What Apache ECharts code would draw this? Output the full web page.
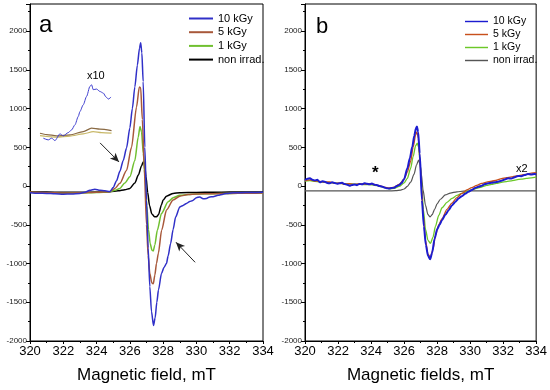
<!DOCTYPE html>
<html>
<head>
<meta charset="utf-8">
<script src="https://cdn.jsdelivr.net/npm/echarts@6/dist/echarts.min.js"></script>
<style>
html,body{margin:0;padding:0;background:#fff;}
#chart{width:550px;height:390px;}
</style>
</head>
<body>
<div id="chart"></div>
<script>
// ---------- Panel a : [field mT, intensity] ----------
const a10kGy = [[320,-85],[320.5,-92],[321,-95],[321.5,-100],[322,-105],[322.5,-102],[323,-95],[323.3,-80],[323.6,-55],[323.9,-40],[324.2,-55],[324.5,-62],[324.8,-70],[325.0,-20],[325.2,70],[325.4,190],[325.6,330],[325.8,490],[326.0,750],[326.15,1000],[326.3,1280],[326.45,1560],[326.58,1780],[326.65,1850],[326.72,1720],[326.8,1350],[326.9,500],[327.0,-180],[327.1,-800],[327.2,-1300],[327.3,-1620],[327.42,-1800],[327.52,-1700],[327.62,-1500],[327.72,-1340],[327.9,-1130],[328.05,-1050],[328.2,-1000],[328.3,-900],[328.45,-740],[328.6,-560],[328.75,-400],[329.0,-270],[329.2,-250],[329.4,-225],[329.6,-200],[329.75,-190],[330.0,-150],[330.2,-140],[330.4,-165],[330.6,-160],[330.8,-140],[331.0,-138],[331.3,-120],[331.6,-105],[331.8,-95],[332.2,-88],[332.7,-85],[333.2,-83],[333.6,-82],[334,-80]];
const a5kGy = [[320,-78],[321,-85],[322,-90],[323,-88],[324,-80],[324.8,-72],[325.1,-30],[325.4,35],[325.8,200],[326.1,500],[326.4,1020],[326.57,1280],[326.65,1270],[326.75,860],[326.87,210],[327.0,-500],[327.1,-900],[327.2,-1130],[327.32,-1250],[327.41,-1260],[327.5,-1150],[327.6,-1000],[327.71,-870],[327.91,-570],[328.2,-310],[328.6,-180],[329,-130],[329.5,-110],[330,-102],[331,-98],[332,-95],[333,-92],[334,-90]];
const a1kGy = [[320,-80],[321,-87],[322,-92],[323,-90],[324,-84],[324.8,-75],[325.1,-55],[325.4,-30],[325.7,40],[326.0,120],[326.3,330],[326.5,630],[326.61,768],[326.7,700],[326.81,420],[326.92,100],[327.02,-250],[327.12,-560],[327.22,-740],[327.33,-830],[327.41,-838],[327.5,-760],[327.65,-570],[327.9,-354],[328.3,-203],[328.6,-150],[329,-120],[329.5,-108],[330,-102],[331,-98],[332,-95],[333,-92],[334,-90]];
const aNonIrrad = [[320,-75],[321,-78],[322,-80],[323,-80],[324,-78],[324.8,-74],[325.3,-62],[325.7,-48],[326.0,-30],[326.3,40],[326.51,142],[326.7,260],[326.81,315],[326.88,290],[326.97,120],[327.07,-80],[327.18,-250],[327.32,-360],[327.48,-395],[327.6,-397],[327.72,-370],[327.9,-240],[328.0,-181],[328.2,-130],[328.6,-95],[329,-86],[330,-82],[331,-80],[332,-78],[333,-77],[334,-77]];
// x10 inset traces
const aInset10 = [[320.8,618],[321.1,596],[321.3,618],[321.5,587],[321.8,674],[322.0,648],[322.3,690],[322.5,725],[322.7,790],[322.9,898],[323.0,962],[323.2,1049],[323.4,1157],[323.6,1286],[323.7,1308],[323.8,1244],[324.0,1252],[324.2,1221],[324.4,1201],[324.57,1149],[324.71,1123],[324.87,1149]];
const aInset5 = [[320.6,682],[321.0,665],[321.6,648],[322.4,661],[323.2,703],[323.7,747],[324.2,734],[324.9,716]];
const aInset1 = [[320.6,650],[321.0,640],[321.6,630],[322.4,645],[323.2,674],[323.8,703],[324.3,690],[324.9,682]];
const aArrows = [[[324.21,557],[325.35,311]],[[329.92,-984],[328.77,-725]]];

// ---------- Panel b ----------
const b10kGy = [[320,78],[320.15,95],[320.3,100],[320.45,80],[320.6,72],[320.75,82],[320.9,48],[321.05,62],[321.2,55],[321.35,40],[321.5,35],[321.65,50],[321.8,38],[321.95,30],[322.1,35],[322.25,42],[322.4,25],[322.55,18],[322.7,4],[322.85,15],[323.0,20],[323.15,12],[323.3,28],[323.45,22],[323.6,35],[323.75,30],[323.9,22],[324.05,32],[324.2,18],[324.35,13],[324.5,2],[324.65,-5],[324.8,-18],[324.95,-28],[325.1,-32],[325.25,-25],[325.4,-22],[325.55,0],[325.7,13],[325.85,40],[326.0,90],[326.2,229],[326.35,360],[326.5,509],[326.62,650],[326.72,745],[326.78,768],[326.85,700],[326.95,420],[327.08,-181],[327.2,-520],[327.32,-760],[327.45,-900],[327.58,-945],[327.7,-860],[327.85,-680],[328.0,-560],[328.15,-500],[328.3,-440],[328.5,-370],[328.7,-311],[328.9,-250],[329.1,-205],[329.3,-160],[329.5,-130],[329.7,-100],[329.9,-74],[330.1,-50],[330.3,-25],[330.5,-9],[330.7,5],[330.9,25],[331.1,35],[331.3,42],[331.5,50],[331.7,56],[331.9,70],[332.1,85],[332.3,100],[332.5,98],[332.7,115],[332.9,130],[333.1,128],[333.3,142],[333.5,155],[333.7,148],[333.9,155],[334,152]];
const b5kGy = [[320,70],[320.3,80],[320.6,65],[320.9,60],[321.2,50],[321.5,55],[321.8,35],[322.1,40],[322.4,25],[322.7,30],[323.0,20],[323.3,30],[323.6,25],[323.9,30],[324.2,20],[324.5,5],[324.8,-15],[325.1,-25],[325.4,-15],[325.7,20],[326.0,90],[326.2,180],[326.4,320],[326.55,500],[326.7,660],[326.78,700],[326.86,620],[326.95,380],[327.05,20],[327.15,-350],[327.3,-700],[327.45,-880],[327.6,-920],[327.75,-820],[327.9,-640],[328.1,-500],[328.3,-420],[328.6,-300],[328.9,-220],[329.2,-150],[329.5,-95],[329.8,-50],[330.1,-20],[330.4,10],[330.7,35],[331.0,50],[331.3,62],[331.6,75],[331.9,95],[332.2,108],[332.5,118],[332.8,132],[333.1,140],[333.4,152],[333.7,168],[334,172]];
const b1kGy = [[320,65],[320.3,70],[320.6,60],[320.9,55],[321.2,50],[321.5,45],[321.8,40],[322.1,35],[322.4,30],[322.7,28],[323.0,25],[323.3,25],[323.6,20],[323.9,20],[324.2,10],[324.5,0],[324.8,-20],[325.1,-35],[325.4,-30],[325.7,-5],[326.0,40],[326.2,100],[326.4,230],[326.55,380],[326.7,520],[326.8,555],[326.88,500],[326.97,300],[327.07,0],[327.17,-300],[327.3,-560],[327.45,-700],[327.6,-740],[327.75,-660],[327.9,-520],[328.1,-380],[328.3,-280],[328.6,-210],[328.9,-160],[329.2,-120],[329.5,-95],[329.8,-70],[330.1,-50],[330.4,-30],[330.7,-12],[331.0,8],[331.3,22],[331.6,35],[331.9,48],[332.2,58],[332.5,68],[332.8,80],[333.1,90],[333.4,98],[333.7,105],[334,115]];
const bNonIrrad = [[320,-62],[322,-62],[324,-62],[325,-62],[325.5,-60],[325.8,-52],[326.0,-38],[326.2,-5],[326.4,50],[326.6,150],[326.75,270],[326.88,335],[326.97,280],[327.05,150],[327.15,-50],[327.3,-250],[327.45,-370],[327.58,-397],[327.7,-370],[327.85,-300],[328.0,-230],[328.2,-170],[328.5,-115],[328.8,-90],[329.2,-75],[329.6,-66],[330,-63],[332,-62],[334,-62]];

const legendNames = ['10 kGy','5 kGy','1 kGy','non irrad.'];
const xTicks = {min:320, max:334, interval:2};
const yTicks = {min:-2000, max:2350, interval:500};

const FONT = '"Liberation Sans", Arial, sans-serif';
const colA = ['#3030c8','#a8583a','#70c030','#000000'];
const colB = ['#1c1cd0','#c8501c','#6cc828','#555555'];

function xAxis(gi, name){
  return {type:'value', gridIndex:gi, min:xTicks.min, max:xTicks.max, interval:xTicks.interval,
    name:name, nameLocation:'middle', nameGap:26,
    nameTextStyle:{fontSize:17, fontFamily:FONT, color:'#000'},
    axisLine:{show:true, onZero:false, lineStyle:{color:'#000', width:1}},
    axisTick:{show:true, inside:false, length:3, lineStyle:{color:'#000'}},
    minorTick:{show:true, splitNumber:2, length:2, lineStyle:{color:'#000'}},
    splitLine:{show:false},
    axisLabel:{fontSize:13, fontFamily:FONT, color:'#000', margin:4}};
}
function yAxis(gi){
  return {type:'value', gridIndex:gi, min:yTicks.min, max:yTicks.max, interval:yTicks.interval,
    axisLine:{show:true, onZero:false, lineStyle:{color:'#000', width:1}},
    axisTick:{show:true, inside:false, length:4, lineStyle:{color:'#000'}},
    minorTick:{show:true, splitNumber:2, length:2, lineStyle:{color:'#000'}},
    splitLine:{show:false},
    axisLabel:{fontSize:8, fontFamily:FONT, color:'#222', margin:3,
      formatter:v => (v % 500 === 0 ? String(v) : '')}};
}
function line(name, data, gi, color, width, extra){
  return Object.assign({type:'line', name:name, data:data, xAxisIndex:gi, yAxisIndex:gi,
    symbol:'none', smooth:0.25, smoothMonotone:'x', animation:false,
    lineStyle:{color:color, width:width}, itemStyle:{color:color}}, extra||{});
}

const chart = echarts.init(document.getElementById('chart'), null, {renderer:'canvas'});
chart.setOption({
  animation:false,
  backgroundColor:'#fff',
  grid:[
    {left:30, top:4, width:233, height:337, show:true, borderColor:'#000', borderWidth:1, backgroundColor:'transparent'},
    {left:305, top:4, width:234, height:337, show:true, borderColor:'#000', borderWidth:1, backgroundColor:'transparent'}
  ],
  xAxis:[xAxis(0,'Magnetic field, mT'), xAxis(1,'Magnetic fields, mT')],
  yAxis:[yAxis(0), yAxis(1)],
  legend:[
    {left:189, top:13, orient:'vertical', itemWidth:24, itemHeight:11, itemGap:2.7, padding:0,
     textStyle:{fontSize:11, fontFamily:FONT, color:'#000'},
     data:legendNames.map((n,i)=>({name:n, icon:'path://M0,5 L24,5 L24,7 L0,7 Z', itemStyle:{color:colA[i]}}))},
    {left:465, top:16, orient:'vertical', itemWidth:23, itemHeight:11, itemGap:2, padding:0,
     textStyle:{fontSize:10.5, fontFamily:FONT, color:'#000'},
     data:legendNames.map((n,i)=>({name:n, icon:'path://M0,5 L24,5 L24,6.5 L0,6.5 Z', itemStyle:{color:colB[i]}}))}
  ],
  series:[
    line('non irrad.', aNonIrrad, 0, colA[3], 1.5, {markLine:{silent:true, symbol:['none','arrow'], symbolSize:[6,9],
      lineStyle:{color:'#222', width:1, type:'solid'}, label:{show:false},
      data:aArrows.map(p=>[{coord:p[0]},{coord:p[1]}])}}),
    line('1 kGy', a1kGy, 0, colA[2], 1.5),
    line('5 kGy', a5kGy, 0, colA[1], 1.5),
    line('10 kGy', a10kGy, 0, colA[0], 1.5),
    line('inset1', aInset1, 0, '#c8b868', 1.2),
    line('inset5', aInset5, 0, '#8a6a44', 1.2),
    line('inset10', aInset10, 0, '#4040d0', 1),
    line('non irrad.', bNonIrrad, 1, colB[3], 1.2),
    line('1 kGy', b1kGy, 1, colB[2], 1.3),
    line('5 kGy', b5kGy, 1, colB[1], 1.3),
    line('10 kGy', b10kGy, 1, colB[0], 2)
  ],
  graphic:[
    {type:'text', left:39, top:13, style:{text:'a', font:'24px '+FONT, fill:'#000'}},
    {type:'text', left:316, top:16, style:{text:'b', font:'22px '+FONT, fill:'#000'}},
    {type:'text', left:87, top:70, style:{text:'x10', font:'11px '+FONT, fill:'#000'}},
    {type:'text', left:516, top:163, style:{text:'x2', font:'11px '+FONT, fill:'#000'}},
    {type:'text', left:372, top:165, style:{text:'*', font:'bold 17px '+FONT, fill:'#000'}}
  ]
});
</script>
</body>
</html>
